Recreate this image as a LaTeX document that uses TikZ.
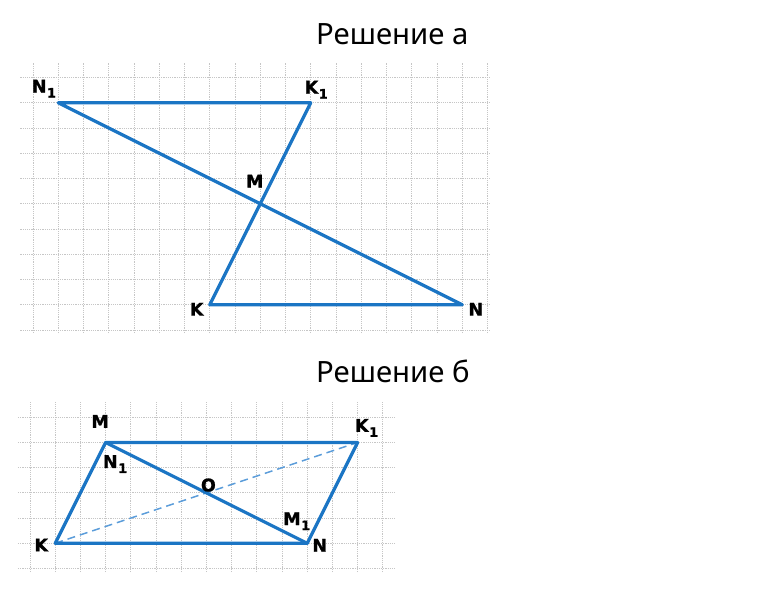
\documentclass[tikz,border=0pt]{standalone}
\usepackage{fontspec}
\setmainfont{Noto Sans}
\newfontfamily\etfont[BoldFeatures={FakeBold=1.2}]{DejaVu Sans}
\usetikzlibrary{positioning}

\definecolor{blu}{HTML}{1B75C4}
\definecolor{blutenue}{HTML}{5C9DDA}
\definecolor{grigia}{HTML}{C6C6C6}

\newcommand{\ind}[1]{\kern0.5pt\raisebox{-5pt}{\fontsize{13}{13}\selectfont #1}}

\tikzset{
	griglia/.style={grigia, line width=0.9pt, dash pattern=on 1.3pt off 0.9pt},
	lato/.style={blu, line width=3.2pt, line join=round, line cap=round},
	tratteggio/.style={blutenue, line width=1.5pt, dash pattern=on 8pt off 5pt},
	etichetta/.style={inner sep=0pt, font=\etfont\bfseries\fontsize{17.5}{17.5}\selectfont},
	titolo/.style={inner sep=0pt, anchor=base west, font=\fontsize{29.3}{29.3}\selectfont}
}

\begin{document}
\begin{tikzpicture}
	\useasboundingbox (0,0) rectangle (776pt,600pt);

	%titoli
	\node[titolo] (titoloa) at (316pt,555pt) {Решение а};
	\node[titolo] (titolob) at (316pt,217pt) {Решение б};

	%figura a
	\begin{scope}[shift={(33pt,270pt)}, x=25.25pt, y=25.25pt]
		%griglia
		\foreach \j in {0,...,10}
			\draw[griglia] (-0.5,\j) -- (18.1,\j);
		\foreach \i in {0,...,18}
			\draw[griglia] (\i,-0.12) -- (\i,10.57);

		%vertici
		\coordinate (N1) at (1,9);
		\coordinate (K1) at (11,9);
		\coordinate (M) at (9,5);
		\coordinate (K) at (7,1);
		\coordinate (N) at (17,1);

		%lati
		\draw[lato] (N1) -- (K1) -- (K) -- (N) -- cycle;

		%nomi
		\node[etichetta, above left=5pt and 2pt of N1] (lN1) {N\ind{1}};
		\node[etichetta, above=4pt of K1, xshift=5.5pt] (lK1) {K\ind{1}};
		\node[etichetta, above=16pt of M, xshift=-5.5pt] (lM) {M};
		\node[etichetta, left=6pt of K, yshift=-4.5pt] (lK) {K};
		\node[etichetta, right=6pt of N, yshift=-4.5pt] (lN) {N};
	\end{scope}

	%figura b
	\begin{scope}[shift={(30pt,31.5pt)}, x=25.2pt, y=25.2pt]
		%griglia
		\foreach \j in {0,...,6}
			\draw[griglia] (-0.48,\j) -- (14.5,\j);
		\foreach \i in {0,...,14}
			\draw[griglia] (\i,-0.14) -- (\i,6.6);

		%vertici
		\coordinate (M) at (3,5);
		\coordinate (K1) at (13,5);
		\coordinate (K) at (1,1);
		\coordinate (N) at (11,1);
		\coordinate (O) at (7,3);

		%diagonale tratteggiata
		\draw[tratteggio] (K) -- (K1);

		%lati
		\draw[lato] (K) -- (M) -- (K1) -- (N) -- cycle;
		\draw[lato] (M) -- (N);

		%nomi
		\node[etichetta, above=14.5pt of M, xshift=-5.5pt] (lM) {M};
		\node[etichetta, below=12.5pt of M, xshift=9.5pt] (lN1) {N\ind{1}};
		\node[etichetta, above=5.5pt of K1, xshift=9pt] (lK1) {K\ind{1}};
		\node[etichetta, above=1pt of O, xshift=2pt] (lO) {O};
		\node[etichetta, above=13pt of N, xshift=-10.5pt] (lM1) {M\ind{1}};
		\node[etichetta, left=7pt of K, yshift=-1.7pt] (lK) {K};
		\node[etichetta, right=5pt of N, yshift=-2pt] (lN) {N};
	\end{scope}
\end{tikzpicture}
\end{document}
